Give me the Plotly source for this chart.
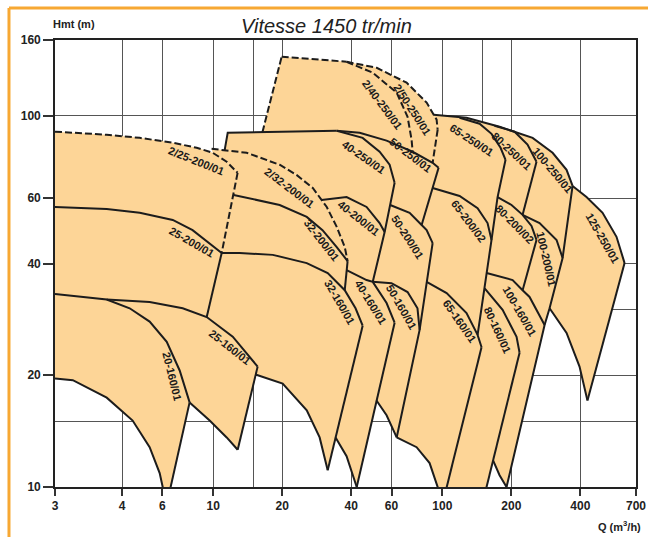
import math
import plotly.graph_objects as go

# ---------------- axes / ticks ----------------
Q_RANGE = [2.04, 700]          # left edge of the chart is labelled "3" in the source
H_RANGE = [10, 160]
X_TICK_VALUES = [2.04, 4, 6, 10, 20, 40, 60, 100, 200, 400, 700]
X_TICK_LABELS = ["3", "4", "6", "10", "20", "40", "60", "100", "200", "400", "700"]
X_MINOR_GRID = [15, 150]
Y_TICK_VALUES = [10, 20, 40, 60, 100, 160]
Y_TICK_LABELS = ["10", "20", "40", "60", "100", "160"]
Y_MINOR_GRID = [15, 30]

# ---------------- curves (Q m3/h, H m) ----------------
# 25 / 20 families
top_2_25_200 = [(2.04, 90.6), (3.43, 88.9), (4.78, 87.2), (6.66, 84.6), (8.47, 82.0), (9.95, 79.5), (11.45, 75.2), (12.78, 70.2)]
edge_2_25_200 = [(12.78, 70.2), (10.89, 42.7)]
top_25_200 = [(2.04, 56.8), (3.43, 56.1), (4.78, 54.8), (6.66, 52.4), (8.13, 49.2), (9.65, 45.4), (10.89, 42.7)]
edge_25_200 = [(10.89, 42.7), (9.37, 28.7)]
top_20_160 = [(2.04, 33.1), (3.43, 32.0), (4.32, 30.3), (5.28, 27.9), (6.27, 24.6), (7.14, 20.6), (7.89, 16.9)]
min_20_160 = [(2.04, 19.6), (2.44, 19.4), (3.43, 17.4), (4.45, 15.1), (5.28, 12.8), (5.84, 10.9), (6.02, 10.0), (6.08, 9.5)]
edge_20_160 = [(7.89, 16.9), (6.40, 9.5)]
top_25_160 = [(3.43, 32.0), (5.28, 31.5), (7.36, 30.3), (9.37, 28.7), (12.17, 25.4), (15.63, 21.1)]
edge_25_160 = [(15.63, 21.1), (12.79, 12.6)]
min_25_160 = [(7.89, 16.9), (9.65, 15.1), (11.45, 13.6), (12.79, 12.6)]

# 32 family
top_2_32_200 = [(9.84, 81.5), (14.0, 79.5), (19.5, 73.8), (23.1, 69.3), (27.2, 63.9), (31.3, 56.8), (34.6, 50.2), (37.5, 44.3), (38.6, 40.6)]
top_32_200 = [(12.28, 61.2), (19.5, 57.5), (25.6, 53.4), (30.0, 49.2), (34.6, 44.3), (38.6, 40.6)]
edge_32_200 = [(38.6, 40.6), (37.5, 33.9)]
top_32_160 = [(10.89, 42.7), (13.05, 42.7), (18.2, 42.2), (25.6, 40.1), (31.6, 37.7), (37.5, 33.9), (41.8, 30.3), (44.9, 27.2)]
edge_32_160 = [(44.9, 27.2), (31.6, 11.1)]
min_32_160 = [(15.3, 20.1), (20.1, 19.0), (25.6, 16.1), (29.14, 13.6), (31.6, 11.1)]

# 40 family
top_40_frame = [(11.22, 80.8), (11.57, 90.0), (34.6, 91.1)]
top_40_250 = [(34.6, 91.1), (44.9, 87.2), (53.24, 80.0), (58.87, 73.8), (61.9, 66.0)]
edge_40 = [(61.9, 66.0), (56.0, 48.6), (49.7, 35.7)]
top_40_200 = [(29.7, 59.3), (38.2, 60.4), (46.7, 56.8), (53.24, 51.4), (56.0, 48.6)]
top_40_160 = [(38.2, 38.4), (46.7, 36.1), (49.7, 35.7), (57.1, 31.3), (61.9, 27.7)]
edge_40_160 = [(61.9, 27.7), (42.3, 10.0)]
min_40_160 = [(34.2, 13.6), (38.2, 12.1), (42.3, 10.0)]

# 50 family
top_50_250 = [(34.6, 91.1), (43.55, 90.0), (57.1, 85.7), (74.2, 80.0), (90.7, 74.7), (96.3, 72.4)]
edge_50_250 = [(96.3, 72.4), (81.2, 50.8)]
top_50_200 = [(59.2, 57.5), (71.97, 54.8), (81.2, 50.8), (85.4, 49.2), (90.7, 45.4)]
edge_50 = [(90.7, 45.4), (79.58, 26.5), (63.2, 13.6)]
top_50_160 = [(49.7, 35.7), (60.0, 35.4), (70.5, 33.5), (77.9, 30.3), (79.58, 26.5)]
min_50_160 = [(51.6, 17.1), (57.1, 15.6), (63.2, 13.6)]

# 2/40-250 and 2/50-250 (dashed)
edge_2_40_250 = [(16.4, 90.3), (19.9, 144.3)]
top_2_40_250 = [(19.9, 144.3), (38.2, 139.8)]
curve_2_40_250 = [(38.2, 139.8), (49.7, 130.6), (63.2, 115.4), (70.5, 99.4), (73.4, 86.2), (74.2, 80.0)]
curve_2_50_250 = [(38.2, 139.8), (51.7, 134.7), (69.8, 122.8), (85.4, 108.5), (94.4, 97.6), (95.4, 91.7)]
edge_2_50_250 = [(95.4, 91.7), (90.7, 74.7)]

# 65 / 80 / 100 / 125 families
top_100_250 = [(91.6, 100.6), (127.5, 98.8), (177.7, 93.4), (247.7, 87.2), (302.8, 79.5), (348.4, 71.5), (370.1, 64.7)]
top_65_250 = [(118.9, 98.8), (145.4, 95.2), (163.9, 89.4), (179.5, 82.0), (188.7, 76.1)]
edge_65 = [(188.7, 76.1), (174.2, 60.4), (163.9, 46.3), (142.5, 25.7)]
top_65_200 = [(90.7, 63.9), (118.9, 60.8), (142.5, 56.4), (157.5, 51.4), (163.9, 46.3)]
top_80_250 = [(168.9, 94.0), (206.7, 90.6), (235.3, 83.6), (257.6, 75.2)]
edge_80_250 = [(257.6, 75.2), (224.0, 54.1)]
top_80_200 = [(174.2, 60.4), (200.4, 57.5), (224.0, 54.1), (245.0, 50.5), (257.6, 46.3)]
edge_80_200 = [(257.6, 46.3), (224.0, 33.9)]
top_100_200 = [(224.0, 54.1), (265.6, 51.4), (315.1, 46.3), (334.8, 41.4)]
edge_100 = [(370.1, 64.7), (334.8, 41.4), (293.7, 30.3), (279.4, 27.3), (190.6, 10.0)]
top_125_250 = [(370.1, 64.7), (425.7, 60.4), (500.3, 54.8), (575.5, 47.2), (624.1, 40.1)]
edge_125_250 = [(624.1, 40.1), (429.8, 17.1)]
min_125_250 = [(293.7, 30.3), (348.4, 26.0), (396.9, 21.1), (429.8, 17.1)]
top_100_160 = [(156.0, 37.7), (202.6, 36.1), (224.0, 33.9), (240.2, 32.5), (279.4, 27.3)]
top_80_160 = [(153.0, 34.3), (183.2, 30.0), (210.8, 25.4), (217.3, 23.0)]
edge_80_160 = [(217.3, 23.0), (166.5, 11.8), (153.6, 9.63)]
min_100_160 = [(166.5, 11.8), (177.7, 10.76), (190.6, 10.0)]
top_65_160 = [(85.4, 35.7), (104.4, 33.3), (127.5, 29.4), (142.5, 25.7), (148.3, 23.8)]
edge_65_160 = [(148.3, 23.8), (102.9, 9.63)]
min_65_160 = [(63.2, 13.6), (77.2, 12.8), (87.99, 11.6), (95.4, 10.0), (96.4, 9.63)]

# model labels: text, Q, H, angle
LABELS = [
    ("2/25-200/01", 8.47, 75.6, 22), ("25-200/01", 8.05, 45.7, 30), ("25-160/01", 11.8, 23.8, 38),
    ("20-160/01", 6.59, 19.85, 76), ("2/32-200/01", 21.56, 63.9, 37), ("32-200/01", 29.7, 46.3, 52),
    ("32-160/01", 35.63, 31.5, 60), ("40-160/01", 48.6, 31.5, 58), ("50-160/01", 66.4, 30.6, 60),
    ("40-200/01", 43.1, 53.1, 38), ("50-200/01", 70.5, 47.2, 57), ("40-250/01", 45.3, 77.5, 35),
    ("50-250/01", 72.7, 78.5, 37), ("2/40-250/01", 54.9, 107.1, 53), ("2/50-250/01", 74.2, 103.8, 57),
    ("65-250/01", 134.1, 86.2, 33), ("80-250/01", 200.4, 80.5, 43), ("100-250/01", 302.8, 71.5, 50),
    ("125-250/01", 500.3, 46.9, 60), ("65-200/02", 130.2, 52.1, 53), ("80-200/02", 206.7, 51.1, 45),
    ("100-200/01", 285.0, 41.2, 77), ("65-160/01", 118.9, 28.0, 55), ("80-160/01", 174.2, 26.5, 65),
    ("100-160/01", 217.3, 29.8, 60),
]

FILL = "#FDD597"
INK = "#1c1c1c"
GRID = "#555555"
NARROW = "Liberation Sans Narrow, Arial Narrow, Liberation Sans, Arial, sans-serif"


def rev(c):
    return list(reversed(c))


fill_polys = [
    top_2_25_200 + edge_2_25_200[1:] + edge_25_200[1:] + rev(top_25_160[:3]) + [top_20_160[0]],
    top_20_160 + edge_20_160[1:] + rev(min_20_160),
    top_25_160 + edge_25_160[1:] + rev(min_25_160)[1:] + rev(top_20_160[1:6]),
    top_32_160 + edge_32_160[1:] + rev(min_32_160)[1:] + rev(top_25_160[3:]),
    top_2_32_200 + edge_32_200[1:] + rev(top_32_160[:5]) + [edge_2_25_200[0]] + rev(top_2_25_200[5:7]),
    top_40_frame[:2] + edge_2_40_250 + top_2_40_250[1:] + curve_2_50_250[1:] + edge_2_50_250[1:]
    + [top_50_250[-1]] + edge_50_250[1:] + rev(top_50_200[:3])[1:] + [edge_40[1]]
    + rev(top_40_200)[1:] + rev(top_2_32_200[1:5]),
    top_40_200 + edge_40[2:] + top_40_160[3:] + edge_40_160[1:] + rev(min_40_160)[1:]
    + [edge_32_160[0]] + rev(top_32_160[5:7]) + [edge_32_200[0]] + rev(top_2_32_200[5:8]),
    top_50_200 + edge_50[1:] + rev(min_50_160)[1:] + [edge_40_160[0]] + rev(top_40_160[2:4]) + [edge_40[1]],
    top_100_250 + top_125_250[1:] + edge_125_250[1:] + rev(min_125_250)[1:] + edge_100[3:]
    + rev(min_100_160)[1:] + edge_80_160[2:] + rev(min_65_160)[1:] + rev(edge_50)[1:]
    + rev(top_50_200[2:4]) + rev(edge_50_250)[1:] + [edge_2_50_250[1]] + rev(edge_2_50_250)[1:]
    + [curve_2_50_250[4]],
]

solid_curves = [
    top_25_200, edge_25_200, top_20_160, min_20_160, edge_20_160, top_25_160, edge_25_160, min_25_160,
    top_32_200, edge_32_200, top_32_160, edge_32_160, min_32_160,
    top_40_frame, top_40_250, edge_40, top_40_200, top_40_160, edge_40_160, min_40_160,
    top_50_250, edge_50_250, top_50_200, edge_50, top_50_160, min_50_160,
    top_100_250, top_65_250, edge_65, top_65_200, top_80_250, edge_80_250, top_80_200, edge_80_200,
    top_100_200, edge_100, top_125_250, edge_125_250, min_125_250, top_100_160, top_80_160,
    edge_80_160, min_100_160, top_65_160, edge_65_160, min_65_160,
]
dashed_curves = [top_2_25_200, edge_2_25_200, top_2_32_200, edge_2_40_250, top_2_40_250,
                 curve_2_40_250, curve_2_50_250, edge_2_50_250]

fig = go.Figure()
for poly in fill_polys:
    fig.add_trace(go.Scatter(x=[p[0] for p in poly], y=[p[1] for p in poly], mode="lines",
                             fill="toself", fillcolor=FILL, line=dict(width=0, color=FILL),
                             hoverinfo="skip", showlegend=False))
for c in solid_curves:
    fig.add_trace(go.Scatter(x=[p[0] for p in c], y=[p[1] for p in c], mode="lines",
                             line=dict(color=INK, width=2), hoverinfo="skip", showlegend=False))
for c in dashed_curves:
    fig.add_trace(go.Scatter(x=[p[0] for p in c], y=[p[1] for p in c], mode="lines",
                             line=dict(color=INK, width=2, dash="7px,3px"), hoverinfo="skip",
                             showlegend=False))

annotations = []
for text, q, h, ang in LABELS:
    annotations.append(dict(x=math.log10(q), y=math.log10(h), xref="x", yref="y", text=text,
                            showarrow=False, textangle=ang, xanchor="center", yanchor="middle",
                            font=dict(family=NARROW, size=11, color="#1a1a1a", weight=700)))

annotations += [
    dict(x=0.468, y=1.031, xref="paper", yref="paper", text="Vitesse 1450 tr/min", showarrow=False,
         xanchor="center", yanchor="middle",
         font=dict(family="Liberation Sans, Arial, sans-serif", size=20, color="#222222", style="italic")),
    dict(x=0.033, y=1.036, xref="paper", yref="paper", text="Hmt (m)", showarrow=False,
         xanchor="center", yanchor="middle",
         font=dict(family=NARROW, size=11, color="#222222", weight=700)),
    dict(x=0.972, y=-0.088, xref="paper", yref="paper", text="Q (m<sup>3</sup>/h)", showarrow=False,
         xanchor="center", yanchor="middle",
         font=dict(family=NARROW, size=11, color="#222222", weight=700)),
]

ORANGE = "#F7A833"
shapes = [
    dict(type="line", xref="paper", yref="paper", x0=-0.0792, x1=1.0207, y0=1.0716, y1=1.0716,
         line=dict(color=ORANGE, width=3)),
    dict(type="line", xref="paper", yref="paper", x0=-0.0792, x1=-0.0792, y0=1.0716, y1=-0.13,
         line=dict(color=ORANGE, width=3)),
]

tickfont = dict(family=NARROW, size=12, color="#222222", weight=700)
fig.update_layout(
    width=648, height=537,
    margin=dict(l=55, r=12, t=40, b=50, autoexpand=False),
    plot_bgcolor="white", paper_bgcolor="white",
    showlegend=False,
    annotations=annotations, shapes=shapes,
    xaxis=dict(type="log", range=[math.log10(Q_RANGE[0]), math.log10(Q_RANGE[1])], automargin=False,
               tickmode="array", tickvals=X_TICK_VALUES, ticktext=X_TICK_LABELS,
               ticks="outside", ticklen=7, tickwidth=1.5, tickcolor="#333333", tickfont=tickfont,
               showgrid=True, gridcolor=GRID, gridwidth=1.3,
               minor=dict(tickvals=X_MINOR_GRID, showgrid=True, gridcolor=GRID, gridwidth=1.3, ticks=""),
               showline=True, linecolor="#222222", linewidth=1.6, mirror=True, zeroline=False),
    yaxis=dict(type="log", range=[math.log10(H_RANGE[0]), math.log10(H_RANGE[1])], automargin=False,
               tickmode="array", tickvals=Y_TICK_VALUES, ticktext=Y_TICK_LABELS,
               ticks="outside", ticklen=10, tickwidth=1.5, tickcolor="#333333", tickfont=tickfont,
               showgrid=True, gridcolor=GRID, gridwidth=1.3,
               minor=dict(tickvals=Y_MINOR_GRID, showgrid=True, gridcolor=GRID, gridwidth=1.3, ticks=""),
               showline=True, linecolor="#222222", linewidth=1.6, mirror=True, zeroline=False),
)

fig.write_html("out.html", config={"displayModeBar": False},
               post_script="document.body.style.margin='0';document.body.style.overflow='hidden';")
